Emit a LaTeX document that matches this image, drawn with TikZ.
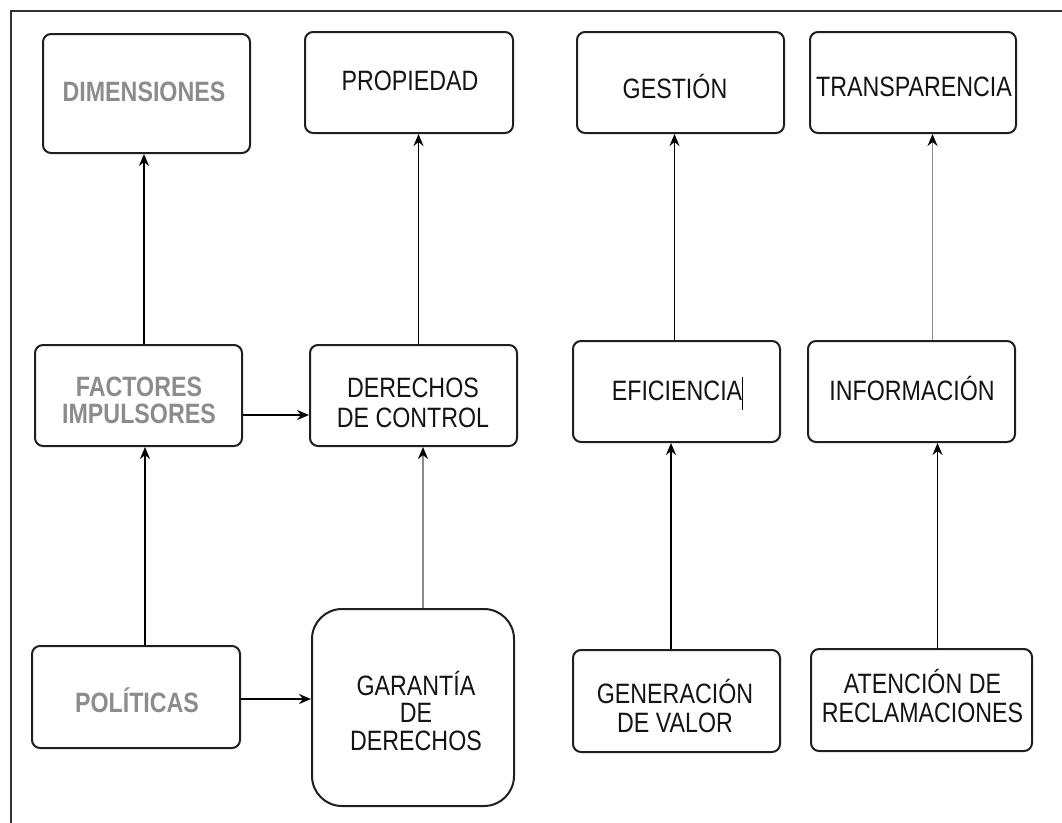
\documentclass[tikz,border=0pt]{standalone}
\usepackage{fontspec}
\setmainfont[FakeStretch=0.83]{Liberation Sans}
\usetikzlibrary{arrows.meta}
\begin{document}
\begin{tikzpicture}[x=1pt,y=-1pt,
  box/.style={draw=black!88, line width=2pt, rounded corners=8pt, inner sep=0pt, minimum width=207pt, minimum height=101pt},
  txt/.style={font=\fontsize{28}{28.5}\selectfont, text=black!92, inner sep=0pt, anchor=base},
  gtxt/.style={font=\fontsize{28}{28.5}\selectfont\bfseries, text=black!45, inner sep=0pt, anchor=base},
  arr/.style={draw=black, line width=1.6pt, -{Stealth[length=12pt,width=10pt,color=black]}},
  garr/.style={arr, draw=black!45},
  frame/.style={draw=black!80, line width=1.5pt}]
\useasboundingbox (0,0) rectangle (1062,822);
% frame (left and top edges visible)
\coordinate (fbl) at (11,830);
\coordinate (ftl) at (11,11);
\coordinate (ftr) at (1070,11);
\draw[frame] (fbl) -- (ftl) -- (ftr);

% boxes
\node[box, minimum height=119pt] (dim) at (146.5,93.5) {};
\node[box, minimum width=208pt] (prop) at (409,82.5) {};
\node[box] (ges) at (680.5,82.5) {};
\node[box, minimum width=206pt] (tra) at (913,82.5) {};
\node[box] (fac) at (138.5,395.5) {};
\node[box] (der) at (413.5,395.5) {};
\node[box] (efi) at (676.5,391.5) {};
\node[box] (inf) at (911.5,391.5) {};
\node[box, minimum width=208pt, minimum height=102pt] (pol) at (136,697) {};
\node[box, minimum width=202pt, minimum height=197pt, rounded corners=30pt] (gar) at (413,707.5) {};
\node[box, minimum height=102pt] (gen) at (676.5,701) {};
\node[box, minimum width=221pt, minimum height=102pt] (ate) at (921.5,700) {};

% texts
\node[gtxt] (tdim) at (144,101.5) {DIMENSIONES};
\node[txt] (tprop) at (410,90) {PROPIEDAD};
\node[txt] (tges) at (675,98) {GESTIÓN};
\node[txt] (ttra) at (914,96) {TRANSPARENCIA};
\node[gtxt] (tfac1) at (139,396) {FACTORES};
\node[gtxt] (tfac2) at (139,423.5) {IMPULSORES};
\node[txt] (tder1) at (413,397.5) {DERECHOS};
\node[txt] (tder2) at (413,427) {DE CONTROL};
\node[txt] (tefi) at (677,400) {EFICIENCIA};
\coordinate (cur1) at (742.5,377);
\coordinate (cur2) at (742.5,410);
\draw[black, line width=1.2pt] (cur1) -- (cur2);
\node[txt] (tinf) at (912,400) {INFORMACIÓN};
\node[gtxt] (tpol) at (137,712) {POLÍTICAS};
\node[txt] (tgar1) at (416,695) {GARANTÍA};
\node[txt] (tgar2) at (416,722.5) {DE};
\node[txt] (tgar3) at (416,750) {DERECHOS};
\node[txt] (tgen1) at (675,703) {GENERACIÓN};
\node[txt] (tgen2) at (675,732) {DE VALOR};
\node[txt] (tate1) at (922.5,693) {ATENCIÓN DE};
\node[txt] (tate2) at (922.5,722) {RECLAMACIONES};

% connectors
\draw[arr] (fac.north -| 144,0) -- (dim.south -| 144,0);
\draw[arr] (der.north -| 418.5,0) -- (prop.south -| 418.5,0);
\draw[arr] (efi.north -| 674.5,0) -- (ges.south -| 674.5,0);
\draw[garr] (inf.north -| 932.5,0) -- (tra.south -| 932.5,0);
\draw[arr] (pol.north -| 145,0) -- (fac.south -| 145,0);
\draw[garr] (gar.north -| 423,0) -- (der.south -| 423,0);
\draw[arr] (gen.north -| 671,0) -- (efi.south -| 671,0);
\draw[arr] (ate.north -| 937.5,0) -- (inf.south -| 937.5,0);
\draw[arr] (fac.east |- 0,415) -- (der.west |- 0,415);
\draw[arr] (pol.east |- 0,699) -- (gar.west |- 0,699);
\end{tikzpicture}
\end{document}
